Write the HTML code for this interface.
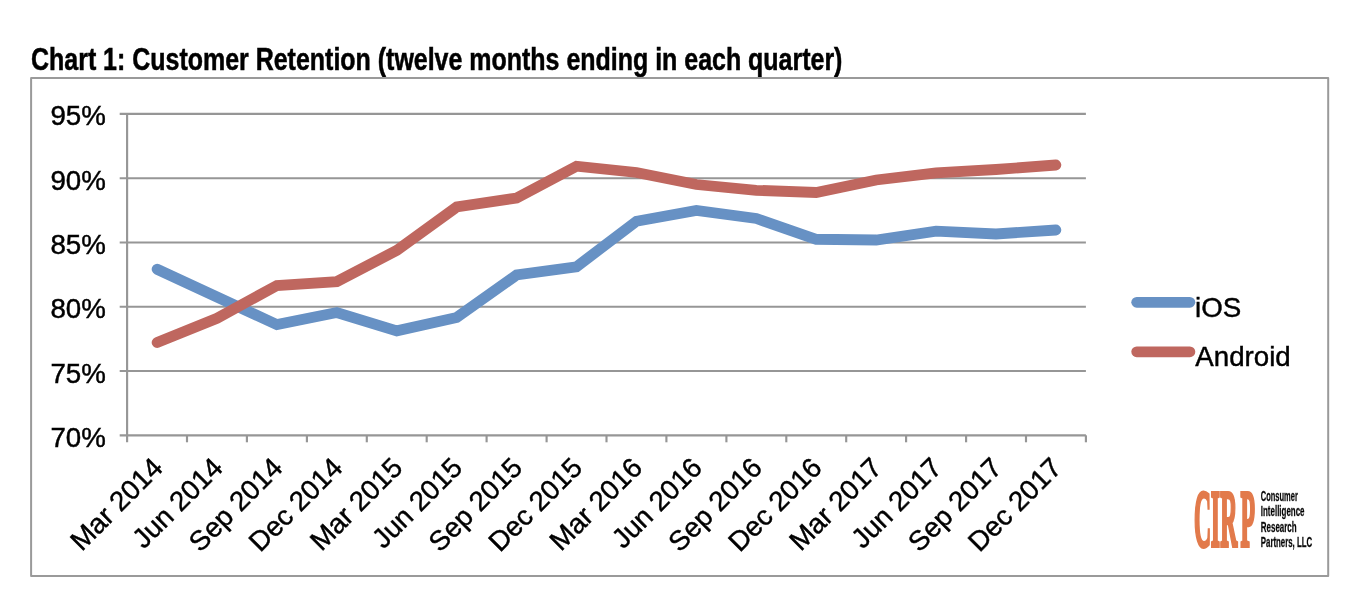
<!DOCTYPE html>
<html lang="en">
<head>
<meta charset="utf-8">
<title>Chart 1: Customer Retention</title>
<style>
html,body{margin:0;padding:0;background:#fff;}
body{width:1360px;height:604px;overflow:hidden;}
svg{display:block;}
text{font-family:"Liberation Sans",Arial,Helvetica,sans-serif;fill:#000;}
.ax{font-size:27.70px;stroke:#000;stroke-width:0.45px;}
.title{font-weight:bold;font-size:30.5px;stroke:#000;stroke-width:0.5px;}
.logo{font-family:"Liberation Serif","DejaVu Serif",serif;font-weight:bold;fill:#E27A4B;stroke:#E27A4B;stroke-width:2.8px;stroke-linejoin:miter;}
.lt{font-weight:bold;fill:#2b2b2b;stroke:#2b2b2b;stroke-width:0.3px;}
</style>
</head>
<body>
<svg width="1360" height="604" viewBox="0 0 1360 604">
<rect x="0" y="0" width="1360" height="604" fill="#fff"/>
<text class="title" transform="translate(31.0 69.9) scale(0.819 1)">Chart 1: Customer Retention (twelve months ending in each quarter)</text>
<rect x="31.1" y="78" width="1297.1" height="497.9" fill="none" stroke="#9a9a9a" stroke-width="2" stroke-linejoin="round"/>
<g stroke="#969696" stroke-width="2.15" fill="none">
<line x1="119.7" y1="113.9" x2="1085.9" y2="113.9"/>
<line x1="119.7" y1="178.2" x2="1085.9" y2="178.2"/>
<line x1="119.7" y1="242.5" x2="1085.9" y2="242.5"/>
<line x1="119.7" y1="306.7" x2="1085.9" y2="306.7"/>
<line x1="119.7" y1="371.0" x2="1085.9" y2="371.0"/>
<line x1="119.7" y1="435.3" x2="1085.9" y2="435.3"/>
<line x1="127.1" y1="112.9" x2="127.1" y2="442.3"/>
<line x1="187.0" y1="435.3" x2="187.0" y2="442.3"/>
<line x1="246.9" y1="435.3" x2="246.9" y2="442.3"/>
<line x1="306.9" y1="435.3" x2="306.9" y2="442.3"/>
<line x1="366.8" y1="435.3" x2="366.8" y2="442.3"/>
<line x1="426.7" y1="435.3" x2="426.7" y2="442.3"/>
<line x1="486.6" y1="435.3" x2="486.6" y2="442.3"/>
<line x1="546.6" y1="435.3" x2="546.6" y2="442.3"/>
<line x1="606.5" y1="435.3" x2="606.5" y2="442.3"/>
<line x1="666.4" y1="435.3" x2="666.4" y2="442.3"/>
<line x1="726.4" y1="435.3" x2="726.4" y2="442.3"/>
<line x1="786.3" y1="435.3" x2="786.3" y2="442.3"/>
<line x1="846.2" y1="435.3" x2="846.2" y2="442.3"/>
<line x1="906.1" y1="435.3" x2="906.1" y2="442.3"/>
<line x1="966.1" y1="435.3" x2="966.1" y2="442.3"/>
<line x1="1026.0" y1="435.3" x2="1026.0" y2="442.3"/>
<line x1="1085.9" y1="435.3" x2="1085.9" y2="442.3"/>
</g>
<g class="ax" text-anchor="end">
<text x="105.8" y="125.4">95%</text>
<text x="105.8" y="189.7">90%</text>
<text x="105.8" y="254.0">85%</text>
<text x="105.8" y="318.2">80%</text>
<text x="105.8" y="382.5">75%</text>
<text x="105.8" y="446.8">70%</text>
</g>
<polyline points="157.1,269.25 217.0,297.00 276.9,324.60 336.8,312.50 396.8,330.80 456.7,317.50 516.6,275.00 576.5,266.75 636.5,221.25 696.4,210.50 756.3,218.50 816.2,239.25 876.2,240.00 936.1,231.10 996.0,234.00 1055.9,230.00" fill="none" stroke="#6791C4" stroke-width="10.8" stroke-linecap="round" stroke-linejoin="miter"/>
<polyline points="157.1,342.50 217.0,318.25 276.9,285.50 336.8,281.60 396.8,250.30 456.7,207.00 516.6,198.00 576.5,166.25 636.5,172.50 696.4,184.50 756.3,190.30 816.2,192.50 876.2,180.00 936.1,172.80 996.0,169.50 1055.9,165.00" fill="none" stroke="#BF675F" stroke-width="10.8" stroke-linecap="round" stroke-linejoin="miter"/>
<g class="ax" text-anchor="end">
<text transform="translate(164.4 469.3) rotate(-45)">Mar 2014</text>
<text transform="translate(224.3 469.3) rotate(-45)">Jun 2014</text>
<text transform="translate(284.2 469.3) rotate(-45)">Sep 2014</text>
<text transform="translate(344.1 469.3) rotate(-45)">Dec 2014</text>
<text transform="translate(404.1 469.3) rotate(-45)">Mar 2015</text>
<text transform="translate(464.0 469.3) rotate(-45)">Jun 2015</text>
<text transform="translate(523.9 469.3) rotate(-45)">Sep 2015</text>
<text transform="translate(583.8 469.3) rotate(-45)">Dec 2015</text>
<text transform="translate(643.8 469.3) rotate(-45)">Mar 2016</text>
<text transform="translate(703.7 469.3) rotate(-45)">Jun 2016</text>
<text transform="translate(763.6 469.3) rotate(-45)">Sep 2016</text>
<text transform="translate(823.5 469.3) rotate(-45)">Dec 2016</text>
<text transform="translate(883.5 469.3) rotate(-45)">Mar 2017</text>
<text transform="translate(943.4 469.3) rotate(-45)">Jun 2017</text>
<text transform="translate(1003.3 469.3) rotate(-45)">Sep 2017</text>
<text transform="translate(1063.2 469.3) rotate(-45)">Dec 2017</text>
</g>
<line x1="1136.7" y1="302.3" x2="1189.9" y2="302.3" stroke="#6791C4" stroke-width="10.8" stroke-linecap="round"/>
<line x1="1136.7" y1="351.8" x2="1189.9" y2="351.8" stroke="#BF675F" stroke-width="10.8" stroke-linecap="round"/>
<text class="ax" x="1195.1" y="316.7">iOS</text>
<text class="ax" x="1195.3" y="366.1">Android</text>
<text class="logo" x="1511.39 1532.66 1544.56 1570.13" y="0" font-size="30" transform="translate(0 545.8) scale(0.79 2.66)" vector-effect="non-scaling-stroke">CIRP</text>
<g class="lt" font-size="13.8">
<text x="1260.8" y="501.2" textLength="37.0" lengthAdjust="spacingAndGlyphs">Consumer</text>
<text x="1260.8" y="516.4" textLength="43.7" lengthAdjust="spacingAndGlyphs">Intelligence</text>
<text x="1260.8" y="531.9" textLength="35.8" lengthAdjust="spacingAndGlyphs">Research</text>
<text x="1260.8" y="547.3" textLength="51.4" lengthAdjust="spacingAndGlyphs">Partners, LLC</text>
</g>
</svg>
</body>
</html>
